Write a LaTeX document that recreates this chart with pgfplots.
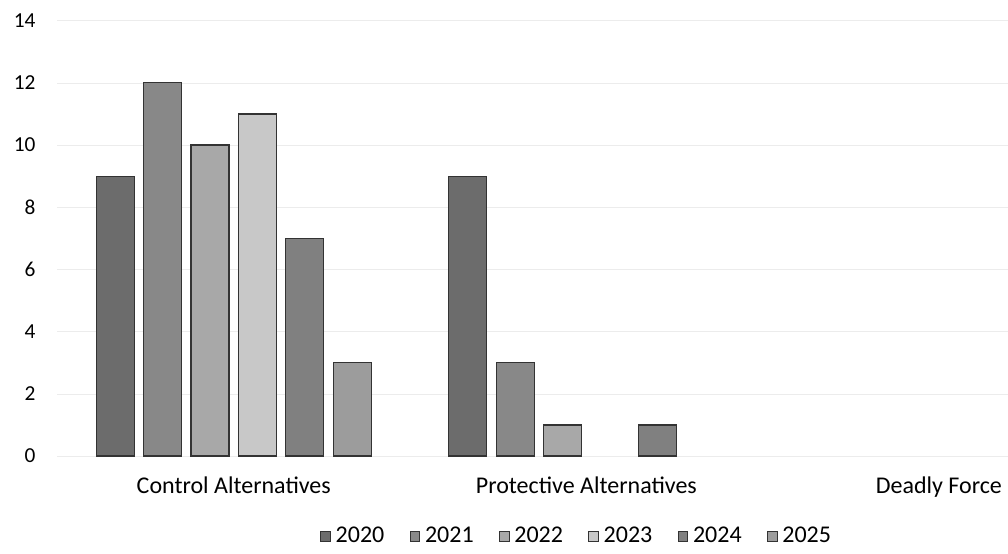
\documentclass[border=0pt]{standalone}
\usepackage{pgfplots}
\pgfplotsset{compat=1.18}
\usepackage{fontspec}
\setmainfont{Carlito}
\definecolor{c2020}{HTML}{6C6C6C}
\definecolor{c2021}{HTML}{888888}
\definecolor{c2022}{HTML}{A8A8A8}
\definecolor{c2023}{HTML}{C8C8C8}
\definecolor{c2024}{HTML}{808080}
\definecolor{c2025}{HTML}{9C9C9C}
\begin{document}
\begin{tikzpicture}
\path[use as bounding box] (-43.125pt,-73.5pt) rectangle (712.875pt,342pt);
\begin{axis}[
  scale only axis,
  width=712.875pt, height=326.5pt,
  ybar=7.05pt, bar width=28.5pt,
  xmin=-0.5, xmax=2.196,
  ymin=0, ymax=14,
  ytick={0,2,...,14},
  xtick={0,1,2},
  xticklabels={Control Alternatives, Protective Alternatives, Deadly Force},
  axis line style={draw=none},
  major tick length=0pt,
  ymajorgrids, grid style={gray!15, line width=0.4pt},
  yticklabel style={font=\fontsize{16}{18}\selectfont, xshift=-13pt},
  xticklabel style={font=\fontsize{18}{21}\selectfont, yshift=-12pt},
  /pgf/number format/assume math mode=true,
  restrict y to domain=0.01:100,
  legend style={at={(0.5466,-0.1838)}, anchor=center, draw=none, legend columns=6,
    font=\fontsize{18}{21}\selectfont,
    /tikz/every odd column/.append style={column sep=2pt},
    /tikz/every even column/.append style={column sep=17pt}},
  legend image code/.code={\draw[#1, line width=0.3pt] (0pt,-3.6pt) rectangle (7.2pt,3.6pt);},
  every axis plot/.append style={draw=black!80, line width=0.9pt},
]
\addplot[fill=c2020] coordinates {(0,9) (1,9) (2,0)};
\addplot[fill=c2021] coordinates {(0,12) (1,3) (2,0)};
\addplot[fill=c2022] coordinates {(0,10) (1,1) (2,0)};
\addplot[fill=c2023] coordinates {(0,11) (1,0) (2,0)};
\addplot[fill=c2024] coordinates {(0,7) (1,1) (2,0)};
\addplot[fill=c2025] coordinates {(0,3) (1,0) (2,0)};
\legend{2020,2021,2022,2023,2024,2025}
\end{axis}
\end{tikzpicture}
\end{document}
